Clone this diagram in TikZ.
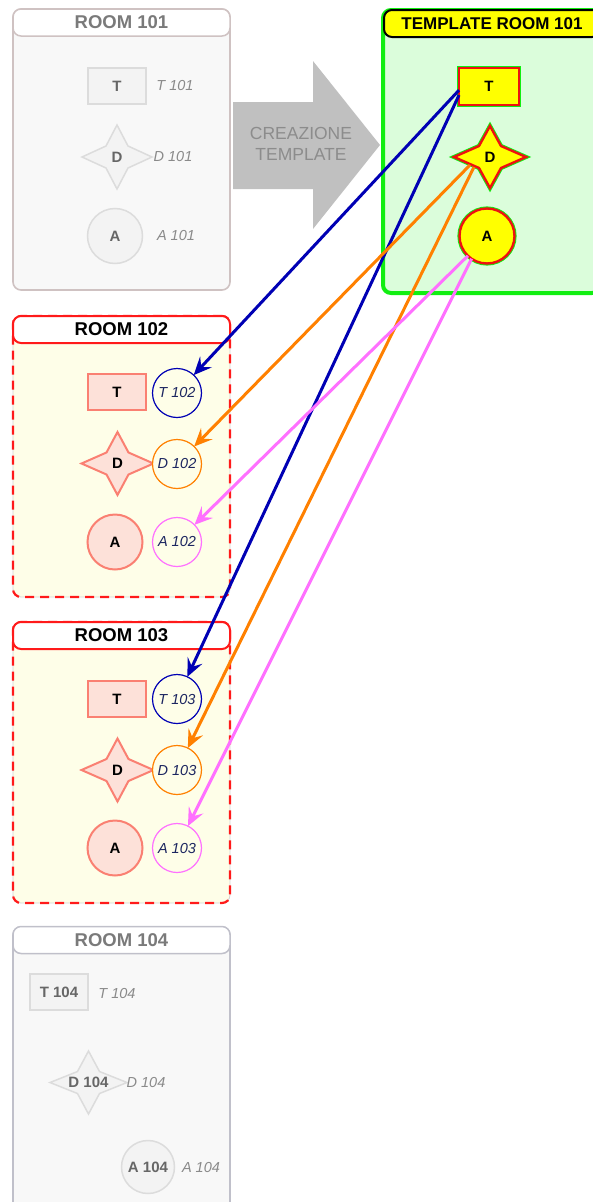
\documentclass[tikz,border=0pt]{standalone}
\usepackage{fontspec}
\setmainfont{Liberation Sans}
\usetikzlibrary{shapes.geometric,arrows.meta,calc}
\definecolor{gbg}{HTML}{F8F8F8}
\definecolor{gline1}{HTML}{CFC2C2}
\definecolor{gline4}{HTML}{C0C0CA}
\definecolor{gsfill}{HTML}{F3F3F3}
\definecolor{gsline}{HTML}{DCDCDC}
\definecolor{gtitle}{HTML}{7A7A7A}
\definecolor{glabel}{HTML}{8A8A8A}
\definecolor{gstext}{HTML}{666666}
\definecolor{bigarrow}{HTML}{C0C0C0}
\definecolor{bigtext}{HTML}{8C8C8C}
\definecolor{tgfill}{HTML}{DBFDDB}
\definecolor{tgline}{HTML}{11EE11}
\definecolor{tyellow}{HTML}{FFFF00}
\definecolor{tred}{HTML}{EE1111}
\definecolor{roombg}{HTML}{FEFEE8}
\definecolor{dashred}{HTML}{FF1A1A}
\definecolor{pinkfill}{HTML}{FDE1D9}
\definecolor{pinkline}{HTML}{FA8072}
\definecolor{cblue}{HTML}{0000B4}
\definecolor{corange}{HTML}{FF8000}
\definecolor{cviolet}{HTML}{FF70FF}
\definecolor{navytext}{HTML}{1C2660}
% #1 options, #2 centre, #3 half width, #4 half height
\newcommand{\dstarpath}[4]{%
  \path[#1, shift={#2}] (-#3,0) -- (-11,-11) -- (0,-#4) -- (11,-11) -- (#3,0) -- (11,11) -- (0,#4) -- (-11,11) -- cycle;}
\begin{document}
\begin{tikzpicture}[x=1pt,y=-1pt,
  every node/.style={inner sep=0pt, outer sep=0pt},
  body/.style={rectangle, rounded corners=8pt, minimum width=217pt},
  titlebar/.style={rectangle, rounded corners=8pt, minimum width=217pt, minimum height=27pt, font=\fontsize{18.5}{20}\selectfont\bfseries},
  greytitle/.style={titlebar, fill=white, draw=#1, line width=1.5pt, text=gtitle},
  redtitle/.style={titlebar, fill=white, draw=dashred, line width=2pt, text=black},
  greybody/.style={body, fill=gbg, draw=#1, line width=1.6pt},
  redbody/.style={body, fill=roombg, draw=gray!35, line width=0.8pt,
     postaction={draw=dashred, line width=2.2pt, dash pattern=on 9pt off 6pt}},
  tshape/.style={rectangle, minimum width=58pt, minimum height=36pt},
  ashape/.style={circle, minimum size=55pt},
  stxt/.style={font=\fontsize{15}{17}\selectfont\bfseries},
  greyshape/.style={fill=gsfill, draw=gsline, line width=1.5pt},
  pinkshape/.style={fill=pinkfill, draw=pinkline, line width=2pt},
  tmplshape/.style={fill=tyellow, draw=tred, line width=2.4pt,
     preaction={draw=tgline, line width=4.2pt}},
  greytxt/.style={stxt, text=gstext},
  blacktxt/.style={stxt, text=black},
  glab/.style={font=\fontsize{14.5}{16}\selectfont\itshape, text=glabel},
  refc/.style={circle, minimum size=49pt, fill=roombg, draw=#1, line width=1.2pt,
     font=\fontsize{14.5}{16}\selectfont\itshape, text=navytext},
  arr/.style={draw=#1, line width=3pt, -{Stealth[length=18pt 0 0,width=16pt 0 0,inset=7pt 0 0]}}
]
\useasboundingbox (0,0) rectangle (592,1202);

% ROOM 101
\node[greybody=gline1, minimum height=281pt] (r1) at (121.5,149.5) {};
\node[greytitle=gline1] (r1t) at (121.5,22.5) {ROOM 101};
\node[tshape, greyshape, greytxt] (T101) at (117,86) {T};
\dstarpath{greyshape}{(117,157)}{35}{32}
\node[greytxt] (D101) at (117,157) {D};
\node[ashape, greyshape, greytxt] (A101) at (115,236) {A};
\node[glab] (T101l) at (175,86) {T 101};
\node[glab] (D101l) at (173,157) {D 101};
\node[glab] (A101l) at (176,236) {A 101};

% big arrow
\fill[bigarrow] (233,102) -- (313,102) -- (313,61) -- (380,145) -- (313,229) -- (313,189) -- (233,189) -- cycle;
\node[font=\fontsize{17.5}{21}\selectfont, text=bigtext, align=center] (crea) at (301,144) {CREAZIONE\\TEMPLATE};

% TEMPLATE
\node[body, minimum width=217pt, minimum height=283pt, fill=tgfill, draw=tgline, line width=4pt] (tr) at (491.5,151.5) {};
\node[titlebar, minimum width=216pt, fill=tyellow, draw=black, line width=2pt, font=\fontsize{17}{19}\selectfont\bfseries] (trt) at (492,23.5) {TEMPLATE ROOM 101};
\node[tshape, minimum width=60pt, minimum height=37pt, tmplshape, blacktxt] (Tt) at (489,86.5) {T};
\dstarpath{tmplshape}{(490,157)}{36}{31}
\node[blacktxt] (Dt) at (490,157) {D};
\node[ashape, tmplshape, blacktxt] (At) at (487,236) {A};

% ROOM 102
\node[redbody, minimum height=281pt] (r2) at (121.5,456.5) {};
\node[redtitle] (r2t) at (121.5,329.5) {ROOM 102};
\node[tshape, pinkshape, blacktxt] (T102s) at (117,392) {T};
\dstarpath{pinkshape}{(117.5,463.5)}{36}{31.5}
\node[blacktxt] (D102s) at (117.5,463.5) {D};
\node[ashape, pinkshape, blacktxt] (A102s) at (115,542) {A};
\node[refc=cblue] (T102) at (177,393) {T 102};
\node[refc=corange] (D102) at (177,464) {D 102};
\node[refc=cviolet] (A102) at (177,542) {A 102};

% ROOM 103
\node[redbody, minimum height=281pt] (r3) at (121.5,762.5) {};
\node[redtitle] (r3t) at (121.5,635.5) {ROOM 103};
\node[tshape, pinkshape, blacktxt] (T103s) at (117,699) {T};
\dstarpath{pinkshape}{(117.5,770)}{36}{31.5}
\node[blacktxt] (D103s) at (117.5,770) {D};
\node[ashape, pinkshape, blacktxt] (A103s) at (115,848) {A};
\node[refc=cblue] (T103) at (177,699) {T 103};
\node[refc=corange] (D103) at (177,770) {D 103};
\node[refc=cviolet] (A103) at (177,848) {A 103};

% ROOM 104
\node[greybody=gline4, minimum height=293pt] (r4) at (121.5,1073.5) {};
\node[greytitle=gline4] (r4t) at (121.5,940) {ROOM 104};
\node[tshape, greyshape, greytxt] (T104) at (59,992) {T 104};
\dstarpath{greyshape}{(88.5,1082.5)}{38.5}{31.5}
\node[greytxt] (D104) at (88.5,1082.5) {D 104};
\node[ashape, minimum size=53pt, greyshape, greytxt] (A104) at (148,1167) {A 104};
\node[glab] (T104l) at (117,993) {T 104};
\node[glab] (D104l) at (146,1082) {D 104};
\node[glab] (A104l) at (201,1167) {A 104};

% connectors
\draw[arr=cblue] (Tt.187) -- (T102);
\draw[arr=cblue] (Tt.196) -- (T103);
\draw[arr=corange] ($(Dt.center)+(-20,8)$) -- (D102);
\draw[arr=corange] ($(Dt.center)+(-16,10)$) -- (D103);
\draw[arr=cviolet] (At.226) -- (A102);
\draw[arr=cviolet] (At.236) -- (A103);
\end{tikzpicture}
\end{document}
